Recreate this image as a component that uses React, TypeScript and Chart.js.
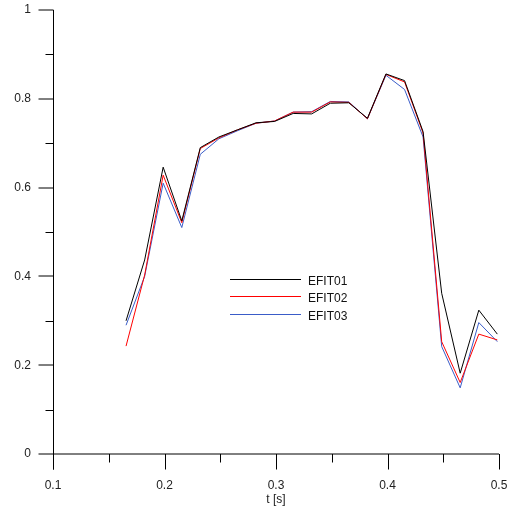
import React, { useEffect, useRef } from "react";
import { Chart, registerables } from "chart.js";

Chart.register(...registerables);

const TIMES = [0.1655, 0.1822, 0.1988, 0.2155, 0.2321, 0.2488, 0.2654, 0.2821, 0.2987, 0.3154, 0.332, 0.3487, 0.3653, 0.382, 0.3986, 0.4153, 0.4319, 0.4486, 0.4652, 0.4819, 0.4985];
const EFIT01 = [0.30, 0.437, 0.646, 0.525, 0.69, 0.714, 0.73, 0.746, 0.749, 0.767, 0.766, 0.79, 0.791, 0.756, 0.856, 0.841, 0.726, 0.362, 0.182, 0.324, 0.27];
const EFIT02 = [0.243, 0.403, 0.628, 0.521, 0.688, 0.712, 0.73, 0.745, 0.75, 0.77, 0.77, 0.793, 0.792, 0.755, 0.855, 0.838, 0.723, 0.253, 0.161, 0.27, 0.257];
const EFIT03 = [0.29, 0.40, 0.61, 0.51, 0.675, 0.71, 0.728, 0.745, 0.75, 0.77, 0.771, 0.794, 0.793, 0.755, 0.853, 0.821, 0.714, 0.242, 0.149, 0.296, 0.253];
const SERIES_NAMES = ["EFIT01", "EFIT02", "EFIT03"];
const SERIES_COLORS = ["#000000", "#ff0000", "#3a5cc8"];

const X_MAJOR = [0.1, 0.2, 0.3, 0.4, 0.5];
const X_MINOR = [0.15, 0.25, 0.35, 0.45];
const Y_MAJOR = [0, 0.2, 0.4, 0.6, 0.8, 1];
const Y_MINOR = [0.1, 0.3, 0.5, 0.7, 0.9];
const X_TITLE = "t [s]";

const FONT = "'Liberation Sans', Arial, sans-serif";

const fmt = (v: any) => String(Number(Number(v).toFixed(3)));

const axesPlugin = {
  id: "axesTicks",
  afterDraw(chart: any) {
    const { ctx, chartArea, scales } = chart;
    const { left, right, top, bottom } = chartArea;
    const xs = scales.x;
    const ys = scales.y;
    ctx.save();
    ctx.strokeStyle = "#000";
    ctx.lineWidth = 1;
    const lx = Math.round(left) + 0.5;
    const by = Math.round(bottom) + 0.5;

    // soft (2px grey-looking) horizontal lines: x axis and y major ticks
    ctx.beginPath();
    ctx.moveTo(left, Math.round(bottom));
    ctx.lineTo(right, Math.round(bottom));
    Y_MAJOR.forEach((v) => {
      const p = Math.round(ys.getPixelForValue(v));
      ctx.moveTo(lx, p);
      ctx.lineTo(lx - 15, p);
    });
    ctx.stroke();

    // crisp lines
    ctx.beginPath();
    ctx.moveTo(lx, top);
    ctx.lineTo(lx, by + 15);
    X_MAJOR.forEach((v) => {
      const p = Math.round(xs.getPixelForValue(v)) + 0.5;
      ctx.moveTo(p, bottom);
      ctx.lineTo(p, by + 15);
    });
    X_MINOR.forEach((v) => {
      const p = Math.round(xs.getPixelForValue(v)) + 0.5;
      ctx.moveTo(p, bottom);
      ctx.lineTo(p, by + 8);
    });
    Y_MINOR.forEach((v) => {
      const p = Math.round(ys.getPixelForValue(v)) + 0.5;
      ctx.moveTo(lx, p);
      ctx.lineTo(lx - 8, p);
    });
    ctx.stroke();

    // legend
    const rows = [279, 296, 314];
    chart.data.datasets.forEach((ds: any, i: number) => {
      const yy = rows[i] + 0.5;
      ctx.beginPath();
      ctx.strokeStyle = ds.borderColor;
      ctx.lineWidth = 1;
      ctx.moveTo(230, yy);
      ctx.lineTo(301, yy);
      ctx.stroke();
      ctx.fillStyle = "#111";
      ctx.font = `12px ${FONT}`;
      ctx.textAlign = "left";
      ctx.textBaseline = "middle";
      ctx.fillText(ds.label, 308, yy + 2);
    });
    ctx.restore();
  },
};

export default function App() {
  const ref = useRef<HTMLCanvasElement | null>(null);
  useEffect(() => {
    if (!ref.current) return;
    const seriesData = [EFIT01, EFIT02, EFIT03];
    const chart = new Chart(ref.current, {
      type: "line",
      data: {
        datasets: seriesData.map((arr, i) => ({
          label: SERIES_NAMES[i],
          data: arr.map((v, j) => ({ x: TIMES[j], y: v })),
          borderColor: SERIES_COLORS[i],
          backgroundColor: SERIES_COLORS[i],
          borderWidth: 1,
          pointRadius: 0,
          tension: 0,
          fill: false,
        })),
      },
      options: {
        responsive: false,
        animation: false,
        layout: { padding: { top: 10, right: 13, left: 0, bottom: 0 } },
        plugins: {
          legend: { display: false },
          tooltip: { enabled: false },
        },
        scales: {
          x: {
            type: "linear",
            min: 0.1,
            max: 0.5,
            grid: { display: false, drawTicks: false },
            border: { display: false },
            ticks: {
              stepSize: 0.1,
              padding: 24,
              color: "#222",
              font: { family: FONT, size: 12 },
              maxRotation: 0,
              callback: fmt,
            },
            title: {
              display: true,
              text: X_TITLE,
              color: "#222",
              font: { family: FONT, size: 12 },
              padding: { top: 0, bottom: 3 },
            },
            afterFit: (s: any) => {
              s.height = 56;
              s.paddingLeft = 0;
              s.paddingRight = 0;
            },
          },
          y: {
            type: "linear",
            min: 0,
            max: 1,
            grid: { display: false, drawTicks: false },
            border: { display: false },
            ticks: {
              stepSize: 0.2,
              padding: 22,
              color: "#222",
              font: { family: FONT, size: 12 },
              callback: fmt,
            },
            afterFit: (s: any) => {
              s.width = 53;
              s.paddingTop = 0;
              s.paddingBottom = 0;
            },
          },
        },
      },
      plugins: [axesPlugin],
    });
    return () => chart.destroy();
  }, []);
  return (
    <div style={{ position: "absolute", left: 0, top: 0, width: 512, height: 510, background: "#fff" }}>
      <canvas ref={ref} width={512} height={510} />
    </div>
  );
}
